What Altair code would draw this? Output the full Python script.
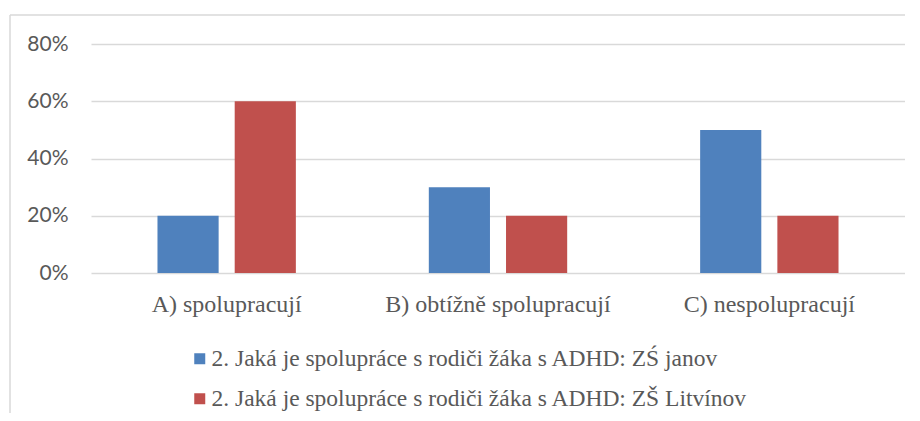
import altair as alt
import pandas as pd

categories = ["A) spolupracují", "B) obtížně spolupracují", "C) nespolupracují"]
series = [
    "2. Jaká je spolupráce s rodiči žáka s ADHD: ZŚ janov",
    "2. Jaká je spolupráce s rodiči žáka s ADHD: ZŠ Litvínov",
]
values_janov = [0.20, 0.30, 0.50]
values_litvinov = [0.60, 0.20, 0.20]
y_ticks = [0, 0.2, 0.4, 0.6, 0.8]
colors = ["#4F81BD", "#C0504D"]

rows = []
for c, v in zip(categories, values_janov):
    rows.append({"cat": c, "series": series[0], "value": v})
for c, v in zip(categories, values_litvinov):
    rows.append({"cat": c, "series": series[1], "value": v})
df = pd.DataFrame(rows)

bars = alt.Chart(df).mark_bar().encode(
    x=alt.X("cat:N", sort=categories, title=None,
            scale=alt.Scale(paddingInner=0.49, paddingOuter=0.245),
            axis=alt.Axis(labelAngle=0, labelFont="Liberation Serif", labelFontSize=24,
                          labelColor="#595959", labelPadding=19, labelBaseline="top",
                          labelLimit=400, domain=False, ticks=False, grid=False)),
    xOffset=alt.XOffset("series:N", sort=series,
                        scale=alt.Scale(paddingInner=0.208, paddingOuter=0)),
    y=alt.Y("value:Q", title=None,
            scale=alt.Scale(domain=[0, 0.8], nice=False),
            axis=alt.Axis(format=".0%", values=y_ticks, labelFont="Lato", labelFontSize=21,
                          labelColor="#595959", labelPadding=23, domain=False, ticks=False,
                          grid=True, gridColor="#D9D9D9", gridWidth=1.5)),
    color=alt.Color("series:N", sort=series,
                    scale=alt.Scale(domain=series, range=colors),
                    legend=alt.Legend(title=None, orient="none", legendX=97, legendY=303,
                                      direction="vertical", symbolType="square",
                                      symbolSize=121, symbolStrokeWidth=0,
                                      labelFont="Liberation Serif", labelFontSize=23.5,
                                      labelColor="#595959", labelOffset=0, rowPadding=15,
                                      labelLimit=800)),
)

frame_top = alt.Chart(alt.Data(values=[{}])).mark_rule(color="#D9D9D9", strokeWidth=1.5).encode(
    x=alt.value(-81), x2=alt.value(840), y=alt.value(-29)
)
frame_left = alt.Chart(alt.Data(values=[{}])).mark_rule(color="#D9D9D9", strokeWidth=1.5).encode(
    x=alt.value(-81), y=alt.value(-29), y2=alt.value(400)
)

chart = alt.layer(bars, frame_top, frame_left).properties(
    width=814, height=229,
    autosize=alt.AutoSizeParams(type="none"),
    padding={"left": 83, "top": 36, "right": 0, "bottom": 140},
).configure_view(stroke=None)

chart.save("out.html", embed_options={"renderer": "svg", "actions": False})
